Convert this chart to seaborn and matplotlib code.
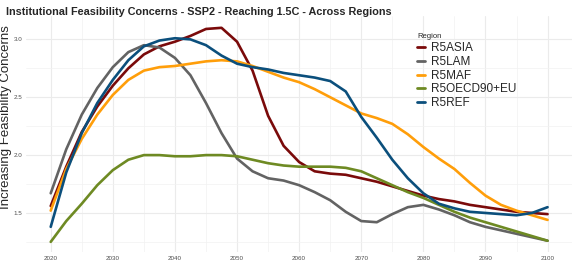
import matplotlib
matplotlib.use("Agg")
import matplotlib.pyplot as plt
from matplotlib.ticker import MultipleLocator
import numpy as np
import pandas as pd
import seaborn as sns

# Values, every 2.5 years
years = [2020, 2022.5, 2025, 2027.5, 2030, 2032.5, 2035, 2037.5, 2040, 2042.5,
         2045, 2047.5, 2050, 2052.5, 2055, 2057.5, 2060, 2062.5, 2065, 2067.5,
         2070, 2072.5, 2075, 2077.5, 2080, 2082.5, 2085, 2087.5, 2090, 2092.5,
         2095, 2097.5, 2100]

r5asia = [1.56, 1.90, 2.20, 2.42, 2.60, 2.75, 2.87, 2.94, 2.98, 3.03,
          3.09, 3.10, 2.98, 2.73, 2.34, 2.08, 1.94, 1.86, 1.84, 1.83,
          1.80, 1.77, 1.73, 1.69, 1.65, 1.62, 1.60, 1.57, 1.55, 1.53,
          1.51, 1.50, 1.49]
r5lam = [1.67, 2.05, 2.35, 2.58, 2.76, 2.89, 2.95, 2.93, 2.84, 2.69,
         2.45, 2.19, 1.97, 1.86, 1.80, 1.78, 1.74, 1.68, 1.61, 1.51,
         1.43, 1.42, 1.49, 1.55, 1.57, 1.53, 1.48, 1.42, 1.38, 1.35,
         1.32, 1.29, 1.26]
r5maf = [1.52, 1.88, 2.14, 2.35, 2.52, 2.65, 2.73, 2.76, 2.77, 2.79,
         2.81, 2.82, 2.81, 2.77, 2.72, 2.67, 2.63, 2.57, 2.50, 2.43,
         2.36, 2.32, 2.27, 2.18, 2.07, 1.97, 1.88, 1.76, 1.65, 1.57,
         1.52, 1.48, 1.44]
r5oecd = [1.25, 1.43, 1.58, 1.74, 1.87, 1.96, 2.00, 2.00, 1.99, 1.99,
          2.00, 2.00, 1.99, 1.96, 1.93, 1.91, 1.90, 1.90, 1.90, 1.89,
          1.86, 1.80, 1.74, 1.68, 1.63, 1.57, 1.51, 1.46, 1.42, 1.38,
          1.34, 1.30, 1.26]
r5ref = [1.38, 1.85, 2.19, 2.45, 2.65, 2.82, 2.94, 2.99, 3.01, 3.00,
         2.95, 2.86, 2.79, 2.76, 2.74, 2.71, 2.69, 2.67, 2.64, 2.55,
         2.33, 2.15, 1.96, 1.80, 1.67, 1.58, 1.54, 1.51, 1.50, 1.49,
         1.48, 1.50, 1.55]

regions = ["R5ASIA", "R5LAM", "R5MAF", "R5OECD90+EU", "R5REF"]
series = [r5asia, r5lam, r5maf, r5oecd, r5ref]
colors = ["#7a0a0a", "#636363", "#ff9e0a", "#6e8a23", "#0b4f7c"]

df = pd.concat([pd.DataFrame({"Year": years, "Value": vals, "Region": name})
                for name, vals in zip(regions, series)], ignore_index=True)

sns.set_style("white")
plt.rcParams["font.family"] = ["Liberation Sans", "DejaVu Sans"]

fig = plt.figure(figsize=(5.75, 2.62), dpi=100)
ax = fig.add_axes([0.045, 0.037, 0.9505, 0.901])

sns.lineplot(data=df, x="Year", y="Value", hue="Region",
             palette=dict(zip(regions, colors)), linewidth=1.9, ax=ax)

ax.set_xlim(2016, 2104)
ax.set_ylim(1.16, 3.2)
ax.xaxis.set_major_locator(MultipleLocator(10))
ax.xaxis.set_minor_locator(MultipleLocator(5))
ax.yaxis.set_major_locator(MultipleLocator(0.5))
ax.yaxis.set_minor_locator(MultipleLocator(0.25))
ax.grid(which="major", color="#ebebeb", linewidth=0.8)
ax.grid(which="minor", color="#f2f2f2", linewidth=0.5)
ax.set_axisbelow(True)
for s in ax.spines.values():
    s.set_visible(False)
ax.tick_params(which="both", length=0, labelsize=4.5, labelcolor="#4d4d4d", pad=2.5)
ax.set_xlabel("")
ax.set_ylabel("Increasing Feasibility Concerns", fontsize=9.5)
ax.yaxis.set_label_coords(-0.025, 0.571)

fig.text(0.01, 0.975, "Institutional Feasibility Concerns - SSP2 - Reaching 1.5C - Across Regions",
         fontsize=7.8, fontweight="bold", va="top", ha="left")

leg = ax.legend(title="Region", frameon=False, loc="upper left",
                bbox_to_anchor=(0.715, 0.895), bbox_transform=fig.transFigure,
                fontsize=8.5, title_fontsize=5.5, handlelength=0.7,
                handletextpad=0.5, labelspacing=0.15, borderpad=0)
leg._legend_box.align = "left"
for line in leg.get_lines():
    line.set_linewidth(2)

fig.savefig("out.png", dpi=100)
